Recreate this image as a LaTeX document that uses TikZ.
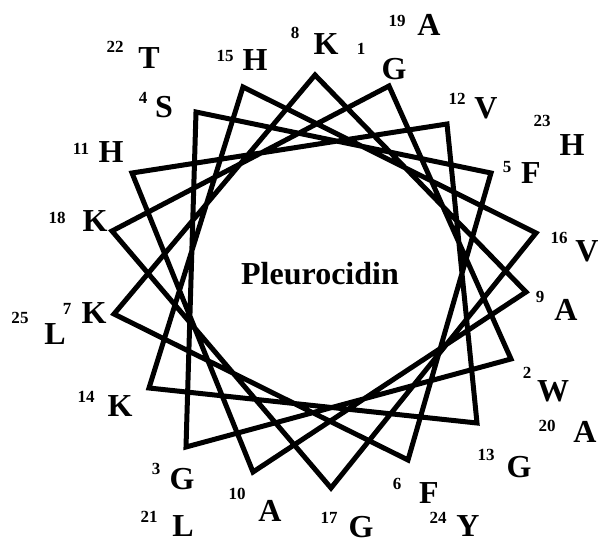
\documentclass[tikz,border=0pt]{standalone}
\usepackage{fontspec}
\setmainfont{Liberation Serif}

\tikzset{
  resname/.style={font=\fontsize{32}{32}\selectfont\bfseries, inner sep=0pt},
  seqnum/.style={font=\fontsize{17}{17}\selectfont\bfseries, inner sep=0pt},
  wheel/.style={line width=5pt, line join=miter},
}

\begin{document}
\begin{tikzpicture}[x=1pt, y=-1pt]

    \useasboundingbox (0,0) rectangle (602,543);

    % Corners of the wheel (residues 1-18)
    \foreach \n/\x/\y in {
        1/389/86,   2/511/359,  3/186/447,  4/196/112,
        5/491/173,  6/408/460,  7/114/314,  8/315/75,
        9/526/292,  10/253/472, 11/132/173, 12/447/124,
        13/477/423, 14/149/388, 15/243/87,  16/536/233,
        17/331/488, 18/112/231
    }{
        \coordinate (r\n) at (\x,\y);
    }

    % Helical path
    \draw[wheel] (r1) \foreach \n in {2,...,18}{ -- (r\n) } -- cycle;

    % Residue letters and their positions
    \foreach \n/\res/\x/\y/\u/\v in {
        1/G/394/69/361/49,
        2/W/553/391/527/373,
        3/G/182/479/156/469,
        4/S/164/107/143/98,
        5/F/531/173/507/167,
        6/F/429/493/397/484,
        7/K/94/313/67/309,
        8/K/326/44/295/33,
        9/A/566/310/540/297,
        10/A/270/511/237/494,
        11/H/111/152/81/149,
        12/V/486/108/457/99,
        13/G/519/467/486/455,
        14/K/120/406/86/397,
        15/H/255/60/225/56,
        16/V/587/251/559/238,
        17/G/361/527/329/518,
        18/K/95/221/57/218,
        19/A/429/25/397/21,
        20/A/585/432/547/426,
        21/L/183/526/149/517,
        22/T/149/58/115/47,
        23/H/572/145/542/121,
        24/Y/468/526/438/518,
        25/L/55/334/20/318
    }{
        \node[resname] (res\n) at (\x,\y) {\res};
        \node[seqnum] (num\n) at (\u,\v) {\n};
    }

    % Peptide name
    \node[resname] (title) at (320,274) {Pleurocidin};

\end{tikzpicture}
\end{document}
